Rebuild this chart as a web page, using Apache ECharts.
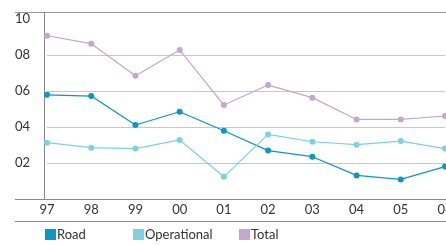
<!DOCTYPE html>
<html><head><meta charset="utf-8">
<script src="https://cdn.jsdelivr.net/npm/echarts@6/dist/echarts.min.js"></script>
<style>html,body{margin:0;padding:0;background:#fff}#c{width:446px;height:245px}</style>
</head><body><div id="c"></div>
<script>
var categories = ['97','98','99','00','01','02','03','04','05','06'];
var road = [5.79, 5.72, 4.11, 4.85, 3.79, 2.69, 2.35, 1.31, 1.09, 1.8];
var operational = [3.13, 2.85, 2.8, 3.28, 1.24, 3.59, 3.18, 3.02, 3.22, 2.8];
var total = [9.07, 8.63, 6.85, 8.28, 5.22, 6.33, 5.63, 4.42, 4.42, 4.61];
var yTickLabels = {0:'', 2:'02', 4:'04', 6:'06', 8:'08', 10:'10'};

var FONT = 'Lato';
var chart = echarts.init(document.getElementById('c'));
function ln(x1,y1,x2,y2,c){return {type:'line',shape:{x1:x1,y1:y1,x2:x2,y2:y2},style:{stroke:c,lineWidth:1},z:-1};}
function mk(name, data, color){
  return {name:name,type:'line',data:data,symbol:'circle',symbolSize:6,
    lineStyle:{color:color,width:1.2},itemStyle:{color:color},animation:false};
}
function lg(name,left){
  return {data:[name],left:left,top:228,padding:0,icon:'rect',itemWidth:11,itemHeight:11,itemGap:2,
    textStyle:{fontFamily:FONT,fontSize:13,color:'#333',padding:[0,0,0,-4]}};
}
chart.setOption({
  animation:false,
  grid:{left:47,right:1,top:19,bottom:46,containLabel:false,outerBoundsMode:'none'},
  xAxis:{type:'category',data:categories,boundaryGap:false,
    axisLine:{show:false},axisTick:{show:false},
    axisLabel:{fontFamily:FONT,fontSize:13,color:'#333',margin:4,showMaxLabel:true,hideOverlap:false}},
  yAxis:{type:'value',min:0,max:10,interval:2,offset:3,
    axisLine:{show:false},axisTick:{show:false},
    axisLabel:{fontFamily:FONT,fontSize:13,color:'#333',align:'left',margin:29,padding:[2,0,0,0],
      formatter:function(v){return yTickLabels[v];}},
    splitLine:{show:true,showMinLine:false,showMaxLine:false,lineStyle:{color:'#c8c8c8',width:1}}},
  legend:[lg('Road',45),lg('Operational',133),lg('Total',239)],
  graphic:[
    ln(15,12.5,446,12.5,'#999'),
    ln(15,199.5,446,199.5,'#888'),
    ln(15,221.5,446,221.5,'#888'),
    ln(44.5,12,44.5,199,'#888')
  ],
  series:[
    mk('Road',road,'#0a97c6'),
    mk('Operational',operational,'#7fd0e0'),
    mk('Total',total,'#c5a6d0')
  ]
});
</script></body></html>
